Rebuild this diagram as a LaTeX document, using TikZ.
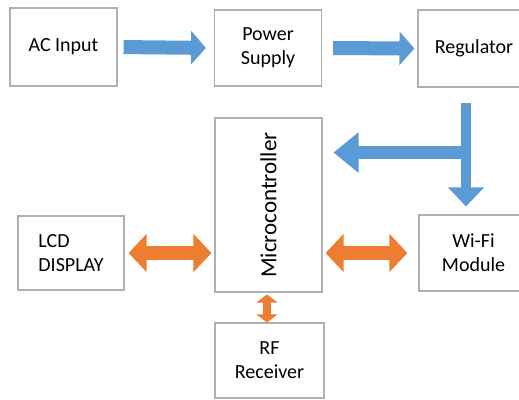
\documentclass[tikz,border=0pt]{standalone}
\usepackage{fontspec}
\setmainfont{Carlito}
\usetikzlibrary{arrows.meta}
\definecolor{boxgray}{RGB}{175,175,175}
\definecolor{ablue}{RGB}{91,155,213}
\definecolor{aorange}{RGB}{237,125,49}
\begin{document}
\begin{tikzpicture}[x=1pt,y=1pt,
  blockbox/.style={draw=boxgray,line width=1.1pt,fill=white,inner sep=0pt,align=center,
    font=\fontsize{20}{24}\selectfont},
  bluearrow/.style={draw=ablue,line width=14pt,-{Triangle[length=15pt 0 1,width=33pt 0 1]}},
  bigblue/.style={draw=ablue,line width=13pt,-{Triangle[length=25pt 0 1,width=39pt 0 1]}},
  downblue/.style={draw=ablue,line width=10pt,-{Triangle[length=19pt 0 1,width=35pt 0 1]}},
  orangearrow/.style={draw=aorange,line width=14pt,{Triangle[length=18pt 0 1,width=37pt 0 1]}-{Triangle[length=18pt 0 1,width=37pt 0 1]}},
  smallorange/.style={draw=aorange,line width=8pt,{Triangle[length=8pt 0 1,width=21pt 0 1]}-{Triangle[length=8pt 0 1,width=21pt 0 1]}}
]
\useasboundingbox (0,0) rectangle (519,-399);
\clip (0,0) rectangle (519,-399);
\fill[white] (0,0) rectangle (519,-399);

\node[blockbox,minimum width=107pt,minimum height=78pt] (ac) at (63.5,-47) {AC Input};
\node[blockbox,minimum width=107pt,minimum height=76pt] (ps) at (268,-48) {Power\\Supply};
\node[blockbox,minimum width=112pt,minimum height=77pt] (reg) at (474,-48.5) {Regulator};
\node[blockbox,minimum width=107pt,minimum height=174pt] (mc) at (268.5,-205) {};
\node[rotate=90,font=\fontsize{23}{27}\selectfont] (mctext) at (mc.center) {Microcontroller};
\node[blockbox,minimum width=106pt,minimum height=74pt,align=left] (lcd) at (71,-253) {LCD\\DISPLAY};
\node[blockbox,minimum width=109pt,minimum height=76pt] (wifi) at (473.5,-253) {Wi-Fi\\Module};
\node[blockbox,minimum width=109pt,minimum height=75pt] (rf) at (269.5,-360.5) {RF\\Receiver};

\coordinate (vtop) at ([xshift=-8pt]reg.south);
\coordinate (vbot) at ([xshift=-7.5pt]wifi.north);
\coordinate (junc) at ([yshift=-65pt]vtop);

\draw[bluearrow,shorten <=6pt,shorten >=8pt] (ac.east) -- (ps.west);
\draw[bluearrow,shorten <=11pt,shorten >=3pt] (ps.east) -- (reg.west);
\draw[bigblue,shorten <=-4pt,shorten >=11pt] (junc) -- (junc -| mc.east);
\draw[downblue,shorten <=15pt,shorten >=8pt] (vtop) -- (vbot);
\draw[orangearrow,shorten <=4pt,shorten >=3pt] (lcd.east) -- (lcd.east -| mc.west);
\draw[orangearrow,shorten <=3pt,shorten >=11pt] (wifi.west -| mc.east) -- (wifi.west);
\draw[smallorange,shorten <=2pt,shorten >=0pt] ([xshift=-1.5pt]mc.south) -- ([xshift=-1.5pt]mc.south |- rf.north);
\end{tikzpicture}
\end{document}
